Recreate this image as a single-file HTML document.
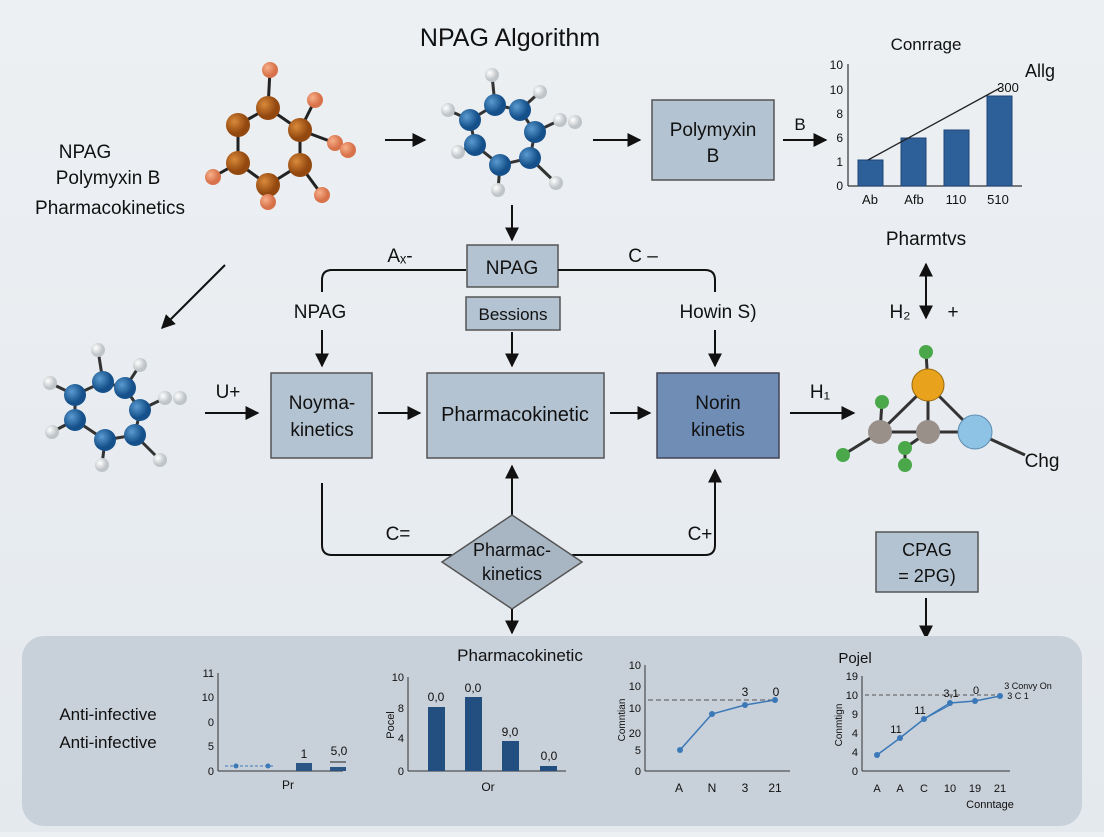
<!DOCTYPE html>
<html><head><meta charset="utf-8"><style>
html,body{margin:0;padding:0;}
body{width:1104px;height:832px;overflow:hidden;background:linear-gradient(#edf0f3,#e4e9ee);font-family:"Liberation Sans",sans-serif;}
svg text{font-family:"Liberation Sans",sans-serif;fill:#111;}
</style></head><body>
<svg width="1104" height="832" viewBox="0 0 1104 832">
<defs>
<marker id="a" viewBox="0 0 10 10" refX="9" refY="5" markerWidth="7" markerHeight="7" orient="auto-start-reverse"><path d="M0,0 L10,5 L0,10z" fill="#111"/></marker>
<radialGradient id="gb" cx="35%" cy="35%"><stop offset="0" stop-color="#5a9bd0"/><stop offset="1" stop-color="#15508a"/></radialGradient>
<radialGradient id="go" cx="35%" cy="35%"><stop offset="0" stop-color="#d98a3a"/><stop offset="1" stop-color="#93480f"/></radialGradient>
<radialGradient id="gw" cx="35%" cy="35%"><stop offset="0" stop-color="#fff"/><stop offset="1" stop-color="#bfc4c8"/></radialGradient>
<radialGradient id="gt" cx="35%" cy="35%"><stop offset="0" stop-color="#f7b08a"/><stop offset="1" stop-color="#d8724a"/></radialGradient>
</defs>
<text x="510" y="46" font-size="25" text-anchor="middle">NPAG Algorithm</text>
<text x="85" y="158" font-size="19" text-anchor="middle">NPAG</text>
<text x="108" y="184" font-size="19" text-anchor="middle">Polymyxin B</text>
<text x="110" y="214" font-size="19" text-anchor="middle">Pharmacokinetics</text>

<!-- molecule 1 -->
<g stroke="#222" stroke-width="3">
<polyline points="268,108 300,130 300,165 268,185 238,163 238,125 268,108" fill="none"/>
<line x1="268" y1="108" x2="270" y2="70"/><line x1="300" y1="130" x2="315" y2="100"/><line x1="300" y1="130" x2="335" y2="143"/><line x1="300" y1="165" x2="322" y2="195"/><line x1="268" y1="185" x2="268" y2="202"/><line x1="238" y1="163" x2="213" y2="177"/><line x1="335" y1="143" x2="348" y2="150"/>
</g>
<g stroke="none">
<circle cx="268" cy="108" r="12" fill="url(#go)"/><circle cx="300" cy="130" r="12" fill="url(#go)"/><circle cx="300" cy="165" r="12" fill="url(#go)"/><circle cx="268" cy="185" r="12" fill="url(#go)"/><circle cx="238" cy="163" r="12" fill="url(#go)"/><circle cx="238" cy="125" r="12" fill="url(#go)"/>
<circle cx="270" cy="70" r="8" fill="url(#gt)"/><circle cx="315" cy="100" r="8" fill="url(#gt)"/><circle cx="335" cy="143" r="8" fill="url(#gt)"/><circle cx="348" cy="150" r="8" fill="url(#gt)"/><circle cx="322" cy="195" r="8" fill="url(#gt)"/><circle cx="268" cy="202" r="8" fill="url(#gt)"/><circle cx="213" cy="177" r="8" fill="url(#gt)"/>
</g>
<line x1="385" y1="140" x2="425" y2="140" stroke="#111" stroke-width="2" marker-end="url(#a)"/>

<!-- molecule 2 -->
<g stroke="#333" stroke-width="3">
<polyline points="470,120 495,105 520,110 535,132 530,158 500,165 475,145 470,120" fill="none"/>
<line x1="470" y1="120" x2="448" y2="110"/><line x1="495" y1="105" x2="492" y2="75"/><line x1="520" y1="110" x2="540" y2="92"/><line x1="535" y1="132" x2="560" y2="120"/><line x1="530" y1="158" x2="556" y2="183"/><line x1="500" y1="165" x2="498" y2="190"/><line x1="475" y1="145" x2="458" y2="152"/>
</g>
<circle cx="448" cy="110" r="7" fill="url(#gw)"/><circle cx="492" cy="75" r="7" fill="url(#gw)"/><circle cx="540" cy="92" r="7" fill="url(#gw)"/><circle cx="560" cy="120" r="7" fill="url(#gw)"/><circle cx="575" cy="122" r="7" fill="url(#gw)"/><circle cx="556" cy="183" r="7" fill="url(#gw)"/><circle cx="498" cy="190" r="7" fill="url(#gw)"/><circle cx="458" cy="152" r="7" fill="url(#gw)"/>
<circle cx="470" cy="120" r="11" fill="url(#gb)"/><circle cx="495" cy="105" r="11" fill="url(#gb)"/><circle cx="520" cy="110" r="11" fill="url(#gb)"/><circle cx="535" cy="132" r="11" fill="url(#gb)"/><circle cx="530" cy="158" r="11" fill="url(#gb)"/><circle cx="500" cy="165" r="11" fill="url(#gb)"/><circle cx="475" cy="145" r="11" fill="url(#gb)"/>

<line x1="593" y1="140" x2="640" y2="140" stroke="#111" stroke-width="2" marker-end="url(#a)"/>
<rect x="652" y="100" width="122" height="80" fill="#b4c3d1" stroke="#555" stroke-width="1.5"/>
<text x="713" y="136" font-size="19" text-anchor="middle">Polymyxin</text>
<text x="713" y="162" font-size="19" text-anchor="middle">B</text>
<text x="800" y="130" font-size="17" text-anchor="middle">B</text>
<line x1="783" y1="140" x2="826" y2="140" stroke="#111" stroke-width="2" marker-end="url(#a)"/>

<!-- top right chart -->
<text x="926" y="50" font-size="17" text-anchor="middle">Conrrage</text>
<text x="1040" y="77" font-size="18" text-anchor="middle">Allg</text>
<g stroke="#333" stroke-width="1.2"><line x1="848" y1="64" x2="848" y2="186"/><line x1="848" y1="186" x2="1022" y2="186"/></g>
<g font-size="12" text-anchor="end"><text x="843" y="69">10</text><text x="843" y="94">10</text><text x="843" y="118">8</text><text x="843" y="142">6</text><text x="843" y="166">1</text><text x="843" y="190">0</text></g>
<g fill="#2d5f99" stroke="#1f4676"><rect x="858" y="160" width="25" height="26"/><rect x="901" y="138" width="25" height="48"/><rect x="944" y="130" width="25" height="56"/><rect x="987" y="96" width="25" height="90"/></g>
<line x1="868" y1="160" x2="1000" y2="88" stroke="#222" stroke-width="1.3"/>
<text x="1008" y="92" font-size="13" text-anchor="middle">300</text>
<g font-size="13" text-anchor="middle"><text x="870" y="204">Ab</text><text x="914" y="204">Afb</text><text x="956" y="204">110</text><text x="998" y="204">510</text></g>

<!-- middle flow -->
<line x1="512" y1="205" x2="512" y2="240" stroke="#111" stroke-width="2" marker-end="url(#a)"/>
<rect x="467" y="245" width="91" height="42" fill="#b4c3d1" stroke="#555" stroke-width="1.5"/>
<text x="512" y="274" font-size="19" text-anchor="middle">NPAG</text>
<rect x="466" y="297" width="94" height="33" fill="#b4c3d1" stroke="#555" stroke-width="1.5"/>
<text x="513" y="320" font-size="17" text-anchor="middle">Bessions</text>
<text x="400" y="262" font-size="19" text-anchor="middle">Aₓ-</text>
<text x="643" y="262" font-size="19" text-anchor="middle">C –</text>
<path d="M466,270 H332 Q322,270 322,280 V292" fill="none" stroke="#111" stroke-width="2"/>
<path d="M558,270 H705 Q715,270 715,280 V292" fill="none" stroke="#111" stroke-width="2"/>
<text x="320" y="318" font-size="19" text-anchor="middle">NPAG</text>
<text x="718" y="318" font-size="19" text-anchor="middle">Howin S)</text>
<line x1="322" y1="330" x2="322" y2="366" stroke="#111" stroke-width="2" marker-end="url(#a)"/>
<line x1="512" y1="332" x2="512" y2="366" stroke="#111" stroke-width="2" marker-end="url(#a)"/>
<line x1="715" y1="330" x2="715" y2="366" stroke="#111" stroke-width="2" marker-end="url(#a)"/>
<line x1="225" y1="265" x2="162" y2="328" stroke="#111" stroke-width="2" marker-end="url(#a)"/>

<!-- molecule 3 -->
<g stroke="#333" stroke-width="3">
<polyline points="75,395 103,382 125,388 140,410 135,435 105,440 75,420 75,395" fill="none"/>
<line x1="75" y1="395" x2="50" y2="383"/><line x1="103" y1="382" x2="98" y2="350"/><line x1="125" y1="388" x2="140" y2="365"/><line x1="140" y1="410" x2="165" y2="398"/><line x1="135" y1="435" x2="160" y2="460"/><line x1="105" y1="440" x2="102" y2="465"/><line x1="75" y1="420" x2="52" y2="432"/>
</g>
<circle cx="50" cy="383" r="7" fill="url(#gw)"/><circle cx="98" cy="350" r="7" fill="url(#gw)"/><circle cx="140" cy="365" r="7" fill="url(#gw)"/><circle cx="165" cy="398" r="7" fill="url(#gw)"/><circle cx="180" cy="398" r="7" fill="url(#gw)"/><circle cx="160" cy="460" r="7" fill="url(#gw)"/><circle cx="102" cy="465" r="7" fill="url(#gw)"/><circle cx="52" cy="432" r="7" fill="url(#gw)"/>
<circle cx="75" cy="395" r="11" fill="url(#gb)"/><circle cx="103" cy="382" r="11" fill="url(#gb)"/><circle cx="125" cy="388" r="11" fill="url(#gb)"/><circle cx="140" cy="410" r="11" fill="url(#gb)"/><circle cx="135" cy="435" r="11" fill="url(#gb)"/><circle cx="105" cy="440" r="11" fill="url(#gb)"/><circle cx="75" cy="420" r="11" fill="url(#gb)"/>

<text x="228" y="398" font-size="19" text-anchor="middle">U+</text>
<line x1="205" y1="413" x2="258" y2="413" stroke="#111" stroke-width="2" marker-end="url(#a)"/>
<rect x="271" y="373" width="101" height="85" fill="#b4c3d1" stroke="#555" stroke-width="1.5"/>
<text x="322" y="409" font-size="19" text-anchor="middle">Noyma-</text>
<text x="322" y="436" font-size="19" text-anchor="middle">kinetics</text>
<line x1="378" y1="413" x2="420" y2="413" stroke="#111" stroke-width="2" marker-end="url(#a)"/>
<rect x="427" y="373" width="177" height="85" fill="#b4c3d1" stroke="#555" stroke-width="1.5"/>
<text x="515" y="421" font-size="20" text-anchor="middle">Pharmacokinetic</text>
<line x1="610" y1="413" x2="650" y2="413" stroke="#111" stroke-width="2" marker-end="url(#a)"/>
<rect x="657" y="373" width="122" height="85" fill="#6f8db5" stroke="#445" stroke-width="1.5"/>
<text x="718" y="409" font-size="19" text-anchor="middle">Norin</text>
<text x="718" y="436" font-size="19" text-anchor="middle">kinetis</text>
<text x="820" y="398" font-size="19" text-anchor="middle">H₁</text>
<line x1="790" y1="413" x2="854" y2="413" stroke="#111" stroke-width="2" marker-end="url(#a)"/>

<!-- molecule 4 -->
<text x="926" y="245" font-size="19" text-anchor="middle">Pharmtvs</text>
<line x1="926" y1="264" x2="926" y2="318" stroke="#111" stroke-width="2" marker-start="url(#a)" marker-end="url(#a)"/>
<text x="900" y="318" font-size="19" text-anchor="middle">H₂</text>
<text x="953" y="318" font-size="19" text-anchor="middle">+</text>
<g stroke="#333" stroke-width="3">
<line x1="928" y1="385" x2="880" y2="432"/><line x1="928" y1="385" x2="928" y2="432"/><line x1="928" y1="385" x2="975" y2="432"/><line x1="880" y1="432" x2="975" y2="432"/><line x1="928" y1="385" x2="926" y2="352"/><line x1="880" y1="432" x2="882" y2="402"/><line x1="880" y1="432" x2="843" y2="455"/><line x1="928" y1="432" x2="905" y2="448"/><line x1="905" y1="448" x2="905" y2="465"/><line x1="975" y1="432" x2="1025" y2="455"/>
</g>
<circle cx="926" cy="352" r="7" fill="#4aa84a"/><circle cx="882" cy="402" r="7" fill="#4aa84a"/><circle cx="843" cy="455" r="7" fill="#4aa84a"/><circle cx="905" cy="448" r="7" fill="#4aa84a"/><circle cx="905" cy="465" r="7" fill="#4aa84a"/>
<circle cx="928" cy="385" r="16" fill="#e9a21c" stroke="#9a6a10"/>
<circle cx="880" cy="432" r="12" fill="#9a908a"/><circle cx="928" cy="432" r="12" fill="#9a908a"/>
<circle cx="975" cy="432" r="17" fill="#8fc3e5" stroke="#5c8db0"/>
<text x="1042" y="467" font-size="19" text-anchor="middle">Chg</text>

<!-- diamond area -->
<line x1="512" y1="515" x2="512" y2="466" stroke="#111" stroke-width="2" marker-end="url(#a)"/>
<path d="M322,483 V545 Q322,555 332,555 H452" fill="none" stroke="#111" stroke-width="2"/>
<path d="M572,555 H705 Q715,555 715,545 V470" fill="none" stroke="#111" stroke-width="2" marker-end="url(#a)"/>
<text x="398" y="540" font-size="19" text-anchor="middle">C=</text>
<text x="700" y="540" font-size="19" text-anchor="middle">C+</text>
<polygon points="512,515 582,562 512,609 442,562" fill="#a8b6c4" stroke="#555" stroke-width="1.5"/>
<text x="512" y="556" font-size="18" text-anchor="middle">Pharmac-</text>
<text x="512" y="580" font-size="18" text-anchor="middle">kinetics</text>
<line x1="512" y1="609" x2="512" y2="633" stroke="#111" stroke-width="2" marker-end="url(#a)"/>
<rect x="876" y="532" width="102" height="60" fill="#b4c3d1" stroke="#555" stroke-width="1.5"/>
<text x="927" y="556" font-size="18" text-anchor="middle">CPAG</text>
<text x="927" y="582" font-size="18" text-anchor="middle">= 2PG)</text>
<line x1="926" y1="598" x2="926" y2="638" stroke="#111" stroke-width="2" marker-end="url(#a)"/>

<!-- bottom panel -->
<rect x="22" y="636" width="1060" height="190" rx="22" fill="#c8d0d9"/>
<text x="520" y="661" font-size="17" text-anchor="middle">Pharmacokinetic</text>
<text x="108" y="720" font-size="17" text-anchor="middle">Anti-infective</text>
<text x="108" y="748" font-size="17" text-anchor="middle">Anti-infective</text>

<!-- chart a -->
<g stroke="#333" stroke-width="1"><line x1="218" y1="673" x2="218" y2="771"/><line x1="218" y1="771" x2="343" y2="771"/></g>
<g font-size="11" text-anchor="end"><text x="214" y="677">11</text><text x="214" y="701">10</text><text x="214" y="726">0</text><text x="214" y="750">5</text><text x="214" y="775">0</text></g>
<line x1="225" y1="766" x2="275" y2="766" stroke="#3a78b8" stroke-dasharray="3,2"/>
<circle cx="236" cy="766" r="2.5" fill="#3a78b8"/><circle cx="268" cy="766" r="2.5" fill="#3a78b8"/>
<rect x="296" y="763" width="16" height="8" fill="#2a5585"/><rect x="330" y="767" width="16" height="4" fill="#2a5585"/>
<line x1="330" y1="762" x2="346" y2="762" stroke="#222"/>
<text x="304" y="758" font-size="12" text-anchor="middle">1</text><text x="339" y="755" font-size="12" text-anchor="middle">5,0</text>
<text x="288" y="789" font-size="12" text-anchor="middle">Pr</text>

<!-- chart b -->
<g stroke="#333" stroke-width="1"><line x1="408" y1="677" x2="408" y2="771"/><line x1="408" y1="771" x2="566" y2="771"/></g>
<g font-size="11" text-anchor="end"><text x="404" y="681">10</text><text x="404" y="712">8</text><text x="404" y="742">4</text><text x="404" y="775">0</text></g>
<text x="394" y="725" font-size="11" text-anchor="middle" transform="rotate(-90 394 725)">Pocel</text>
<g fill="#234f80"><rect x="428" y="707" width="17" height="64"/><rect x="465" y="697" width="17" height="74"/><rect x="502" y="741" width="17" height="30"/><rect x="540" y="766" width="17" height="5"/></g>
<g font-size="12" text-anchor="middle"><text x="436" y="701">0,0</text><text x="473" y="692">0,0</text><text x="510" y="736">9,0</text><text x="549" y="760">0,0</text></g>
<text x="488" y="791" font-size="12" text-anchor="middle">Or</text>

<!-- chart c -->
<g stroke="#333" stroke-width="1"><line x1="645" y1="665" x2="645" y2="771"/><line x1="645" y1="771" x2="790" y2="771"/></g>
<g font-size="11" text-anchor="end"><text x="641" y="669">10</text><text x="641" y="690">10</text><text x="641" y="712">10</text><text x="641" y="737">20</text><text x="641" y="754">5</text><text x="641" y="775">0</text></g>
<text x="625" y="720" font-size="10" text-anchor="middle" transform="rotate(-90 625 720)">Comntian</text>
<line x1="648" y1="700" x2="776" y2="700" stroke="#555" stroke-dasharray="5,3"/>
<polyline points="680,750 712,714 745,705 775,700" fill="none" stroke="#3a78b8" stroke-width="1.5"/>
<g fill="#3a78b8"><circle cx="680" cy="750" r="3"/><circle cx="712" cy="714" r="3"/><circle cx="745" cy="705" r="3"/><circle cx="775" cy="700" r="3"/></g>
<g font-size="12" text-anchor="middle"><text x="745" y="696">3</text><text x="776" y="696">0</text><text x="679" y="792">A</text><text x="712" y="792">N</text><text x="745" y="792">3</text><text x="775" y="792">21</text></g>

<!-- chart d -->
<text x="855" y="663" font-size="15" text-anchor="middle">Pojel</text>
<g stroke="#333" stroke-width="1"><line x1="862" y1="676" x2="862" y2="771"/><line x1="862" y1="771" x2="1010" y2="771"/></g>
<g font-size="11" text-anchor="end"><text x="858" y="680">19</text><text x="858" y="699">10</text><text x="858" y="718">9</text><text x="858" y="737">4</text><text x="858" y="756">4</text><text x="858" y="775">0</text></g>
<text x="842" y="725" font-size="10" text-anchor="middle" transform="rotate(-90 842 725)">Conmtign</text>
<line x1="865" y1="695" x2="1000" y2="695" stroke="#555" stroke-dasharray="4,3"/>
<polyline points="877,755 900,738 924,719 950,703 975,701 1000,696" fill="none" stroke="#3a78b8" stroke-width="1.5"/>
<polyline points="900,738 924,719 950,705" fill="none" stroke="#3a78b8" stroke-width="1"/>
<g fill="#3a78b8"><circle cx="877" cy="755" r="3"/><circle cx="900" cy="738" r="3"/><circle cx="924" cy="719" r="3"/><circle cx="950" cy="703" r="3"/><circle cx="975" cy="701" r="3"/><circle cx="1000" cy="696" r="3"/></g>
<g font-size="11" text-anchor="middle"><text x="896" y="733">11</text><text x="920" y="714">11</text><text x="951" y="697">3,1</text><text x="976" y="694">0</text>
<text x="877" y="792">A</text><text x="900" y="792">A</text><text x="924" y="792">C</text><text x="950" y="792">10</text><text x="975" y="792">19</text><text x="1000" y="792">21</text><text x="990" y="808">Conntage</text></g>
<text x="1028" y="689" font-size="9" text-anchor="middle">3 Convy On</text>
<text x="1018" y="699" font-size="9" text-anchor="middle">3 C 1</text>
</svg>
</body></html>
